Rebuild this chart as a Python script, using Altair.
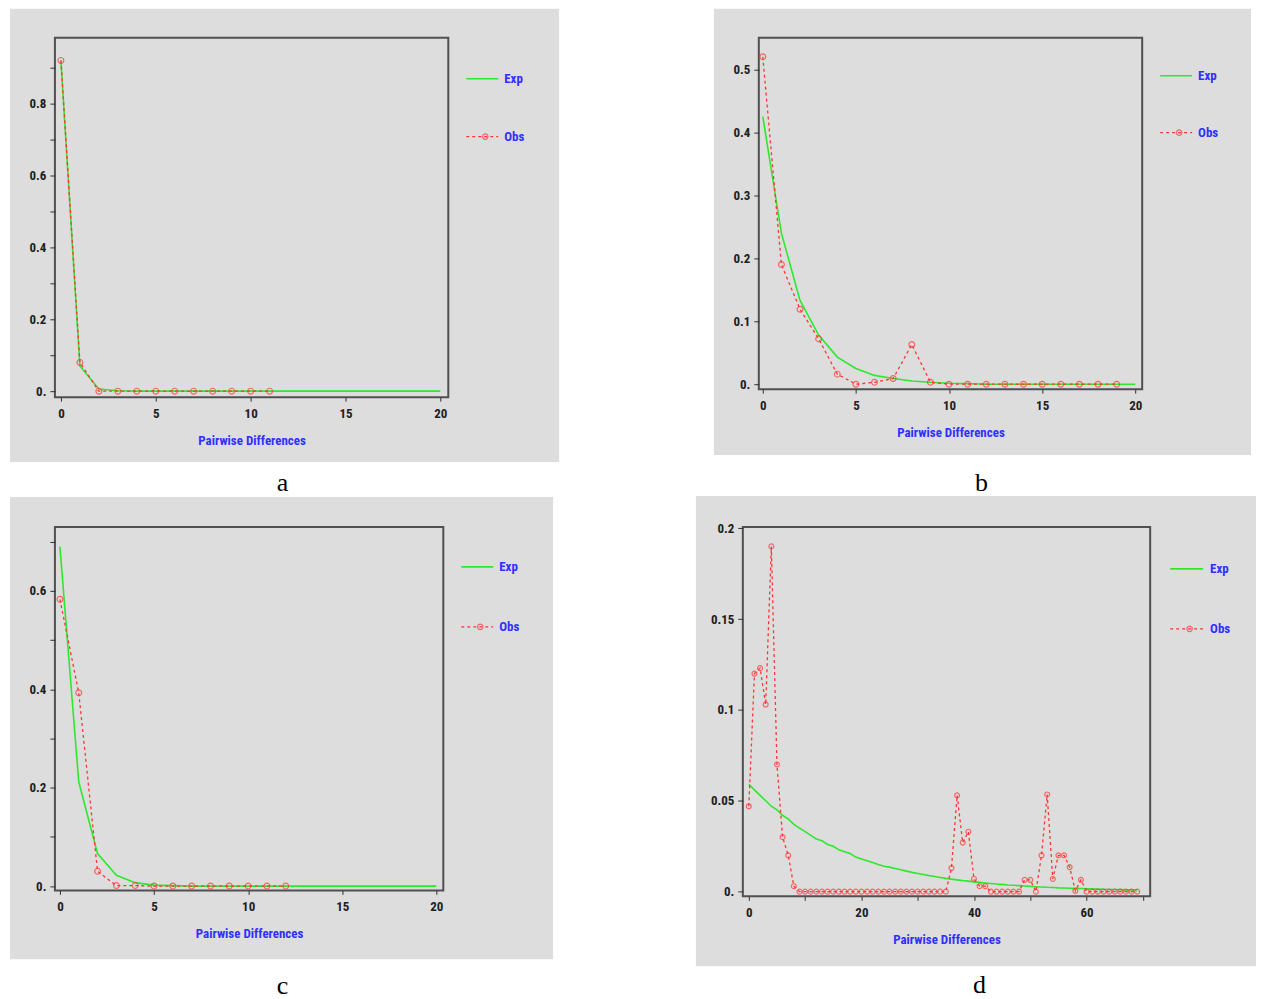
import altair as alt
import pandas as pd

# ---------------- data ----------------
panel_labels = ["a", "b", "c", "d"]
series_names = ["Exp", "Obs"]
x_title = "Pairwise Differences"

# panel a
a_exp_x = [0, 1, 2, 3, 4, 5, 6, 7, 8, 9, 10, 11, 12, 13, 14, 15, 16, 17, 18, 19, 20]
a_exp_y = [0.92, 0.07, 0.006, 0.001, 0, 0, 0, 0, 0, 0, 0, 0, 0, 0, 0, 0, 0, 0, 0, 0, 0]
a_obs_x = [0, 1, 2, 3, 4, 5, 6, 7, 8, 9, 10, 11]
a_obs_y = [0.92, 0.08, 0, 0, 0, 0, 0, 0, 0, 0, 0, 0]

# panel b
b_exp_x = [0, 1, 2, 3, 4, 5, 6, 7, 8, 9, 10, 11, 12, 13, 14, 15, 16, 17, 18, 19, 20]
b_exp_y = [0.425, 0.24, 0.133, 0.078, 0.043, 0.025, 0.014, 0.009, 0.005, 0.003, 0.0015,
           0.001, 0, 0, 0, 0, 0, 0, 0, 0, 0]
b_obs_x = [0, 1, 2, 3, 4, 5, 6, 7, 8, 9, 10, 11, 12, 13, 14, 15, 16, 17, 18, 19]
b_obs_y = [0.52, 0.19, 0.119, 0.072, 0.016, 0.0, 0.003, 0.009, 0.063, 0.003,
           0, 0, 0, 0, 0, 0, 0, 0, 0, 0]

# panel c
c_exp_x = [0, 1, 2, 3, 4, 5, 6, 7, 8, 9, 10, 11, 12, 13, 14, 15, 16, 17, 18, 19, 20]
c_exp_y = [0.69, 0.212, 0.066, 0.022, 0.007, 0.002, 0.001, 0, 0, 0, 0, 0, 0, 0, 0, 0, 0, 0, 0, 0, 0]
c_obs_x = [0, 1, 2, 3, 4, 5, 6, 7, 8, 9, 10, 11, 12]
c_obs_y = [0.583, 0.393, 0.03, 0.001, 0.001, 0, 0, 0, 0, 0, 0, 0, 0]

# panel d
d_x = [0, 1, 2, 3, 4, 5, 6, 7, 8, 9, 10, 11, 12, 13, 14, 15, 16, 17, 18, 19,
       20, 21, 22, 23, 24, 25, 26, 27, 28, 29, 30, 31, 32, 33, 34, 35, 36, 37, 38, 39,
       40, 41, 42, 43, 44, 45, 46, 47, 48, 49, 50, 51, 52, 53, 54, 55, 56, 57, 58, 59,
       60, 61, 62, 63, 64, 65, 66, 67, 68, 69]
d_exp_y = [0.059, 0.056, 0.053, 0.050, 0.047, 0.045, 0.042, 0.040, 0.037, 0.035,
           0.033, 0.031, 0.029, 0.028, 0.026, 0.025, 0.023, 0.022, 0.021, 0.019,
           0.018, 0.017, 0.016, 0.015, 0.014, 0.0135, 0.0127, 0.012, 0.0113, 0.0106,
           0.010, 0.0094, 0.0088, 0.0083, 0.0078, 0.0073, 0.0069, 0.0065, 0.0061, 0.0058,
           0.0054, 0.0051, 0.0048, 0.0045, 0.0042, 0.0040, 0.0037, 0.0035, 0.0033, 0.0031,
           0.0029, 0.0027, 0.0026, 0.0024, 0.0023, 0.0021, 0.0020, 0.0019, 0.0018, 0.0017,
           0.0016, 0.0015, 0.0014, 0.0013, 0.0012, 0.0012, 0.0011, 0.0010, 0.0010, 0.0009]
d_obs_y = [0.047, 0.120, 0.123, 0.103, 0.190, 0.070, 0.030, 0.020, 0.003, 0,
           0, 0, 0, 0, 0, 0, 0, 0, 0, 0,
           0, 0, 0, 0, 0, 0, 0, 0, 0, 0,
           0, 0, 0, 0, 0, 0, 0.013, 0.053, 0.027, 0.033,
           0.007, 0.003, 0.003, 0, 0, 0, 0, 0, 0, 0.0065,
           0.0065, 0, 0.020, 0.0535, 0.007, 0.020, 0.020, 0.0135, 0.0005, 0.0065,
           0, 0, 0, 0, 0, 0, 0, 0, 0, 0]

# axis ticks
x_ticks_20 = [0, 5, 10, 15, 20]
x_ticks_70 = [0, 10, 20, 30, 40, 50, 60, 70]
a_yticks = [0, 0.1, 0.2, 0.3, 0.4, 0.5, 0.6, 0.7, 0.8, 0.9]
b_yticks = [0, 0.1, 0.2, 0.3, 0.4, 0.5]
c_yticks = [0, 0.1, 0.2, 0.3, 0.4, 0.5, 0.6, 0.7]
d_yticks = [0, 0.05, 0.1, 0.15, 0.2]

# ---------------- styling ----------------
BG = "#dddddd"
FRAME = "#505050"
GREEN = "#2ee82e"
RED = "#ff3535"
BLUE = "#3030ff"
NARROW = "Roboto Condensed, Liberation Sans Narrow, Roboto, sans-serif"
SERIF = "Liberation Serif, DejaVu Serif, serif"

Y_EVEN = "datum.value == 0 ? '0.' : (round(datum.value * 10) % 2 == 0 ? format(datum.value, '.1f') : '')"
Y_ALL1 = "datum.value == 0 ? '0.' : format(datum.value, '.1f')"
Y_D = "datum.value == 0 ? '0.' : format(datum.value, '')"
X_ALL = "format(datum.value, 'd')"
X_20 = "datum.value % 20 == 0 ? format(datum.value, 'd') : ''"

AX_STYLE = dict(zindex=1, grid=False, domain=False, labelOverlap=False, labelFlush=False,
                labelFont=NARROW, labelFontSize=13, labelFontWeight="bold",
                labelColor="#202020", tickColor="#303030", tickWidth=1)


def panel(label, exp_x, exp_y, obs_x, obs_y, w, h, xdom, ydom, xticks, xexpr,
          yticks, yexpr, cell, box, leg, lab, psize):
    exp_df = pd.DataFrame({"x": exp_x, "y": exp_y})
    obs_df = pd.DataFrame({"x": obs_x, "y": obs_y})
    leg_df = pd.DataFrame({"name": series_names})
    lab_df = pd.DataFrame({"lab": [label]})
    dummy = pd.DataFrame({"k": [0]})

    X = alt.X("x:Q", scale=alt.Scale(domain=xdom, nice=False, zero=False),
              axis=alt.Axis(values=xticks, labelExpr=xexpr, title=x_title,
                            tickSize=4, labelPadding=6, titlePadding=14,
                            titleFont=NARROW, titleFontSize=13, titleFontWeight="bold",
                            titleColor=BLUE, **AX_STYLE))
    Y = alt.Y("y:Q", scale=alt.Scale(domain=ydom, nice=False, zero=False),
              axis=alt.Axis(values=yticks, labelExpr=yexpr, title=None,
                            tickSize=5, labelPadding=4, **AX_STYLE))

    cell_l, cell_r, cell_t, cell_b = cell
    box_l, box_r, box_t, box_b = box
    lx1, lx2, ltx, ly_exp, ly_obs = leg
    labx, laby = lab

    cell_rect = alt.Chart(dummy).mark_rect(opacity=0).encode(
        x=alt.value(cell_l), x2=alt.value(cell_r), y=alt.value(cell_t), y2=alt.value(cell_b))
    box_rect = alt.Chart(dummy).mark_rect(fill=BG).encode(
        x=alt.value(box_l), x2=alt.value(box_r), y=alt.value(box_t), y2=alt.value(box_b))
    frame = alt.Chart(dummy).mark_rect(filled=False, stroke=FRAME, strokeWidth=2).encode(
        x=alt.value(0), x2=alt.value(w), y=alt.value(0), y2=alt.value(h))

    exp_line = alt.Chart(exp_df).mark_line(color=GREEN, strokeWidth=1.6).encode(x=X, y=Y)
    obs_line = alt.Chart(obs_df).mark_line(color=RED, strokeWidth=1.3,
                                           strokeDash=[3, 3]).encode(x=X, y=Y)
    obs_pts = alt.Chart(obs_df).mark_point(shape="circle", filled=False, color=RED,
                                           size=psize, strokeWidth=1.2).encode(x=X, y=Y)

    leg_exp_rule = alt.Chart(leg_df).transform_filter(alt.datum.name == "Exp").mark_rule(
        color=GREEN, strokeWidth=1.6).encode(
        x=alt.value(lx1), x2=alt.value(lx2), y=alt.value(ly_exp))
    leg_obs_rule = alt.Chart(leg_df).transform_filter(alt.datum.name == "Obs").mark_rule(
        color=RED, strokeWidth=1.3, strokeDash=[3, 3]).encode(
        x=alt.value(lx1), x2=alt.value(lx2), y=alt.value(ly_obs))
    leg_obs_pt = alt.Chart(leg_df).transform_filter(alt.datum.name == "Obs").mark_point(
        shape="circle", filled=False, color=RED, size=30, strokeWidth=1.2).encode(
        x=alt.value((lx1 + lx2) / 2 + 3), y=alt.value(ly_obs))
    leg_exp_txt = alt.Chart(leg_df).transform_filter(alt.datum.name == "Exp").mark_text(
        align="left", baseline="middle", font=NARROW, fontSize=13, fontWeight="bold",
        color=BLUE).encode(text="name:N", x=alt.value(ltx), y=alt.value(ly_exp))
    leg_obs_txt = alt.Chart(leg_df).transform_filter(alt.datum.name == "Obs").mark_text(
        align="left", baseline="middle", font=NARROW, fontSize=13, fontWeight="bold",
        color=BLUE).encode(text="name:N", x=alt.value(ltx), y=alt.value(ly_obs))

    lab_txt = alt.Chart(lab_df).mark_text(
        align="center", baseline="alphabetic", font=SERIF, fontSize=26, color="#000000"
    ).encode(text="lab:N", x=alt.value(labx), y=alt.value(laby))

    return alt.layer(cell_rect, box_rect, frame, exp_line, obs_line, obs_pts,
                     leg_exp_rule, leg_obs_rule, leg_obs_pt, leg_exp_txt, leg_obs_txt,
                     lab_txt).properties(width=w, height=h)


pa = panel(panel_labels[0], a_exp_x, a_exp_y, a_obs_x, a_obs_y,
           394, 360, [-0.316, 20.42], [-0.0167, 0.983], x_ticks_20, X_ALL, a_yticks, Y_EVEN,
           cell=(-45, 660, -29, 459), box=(-45, 505, -29, 425),
           leg=(412, 444, 450, 41, 99), lab=(228, 454), psize=34)
pb = panel(panel_labels[1], b_exp_x, b_exp_y, b_obs_x, b_obs_y,
           384, 352, [-0.214, 20.37], [-0.0079, 0.5503], x_ticks_20, X_ALL, b_yticks, Y_ALL1,
           cell=(-45, 500, -29, 459), box=(-45, 493, -29, 418),
           leg=(402, 434, 440, 38, 95), lab=(223, 454), psize=34)
pc = panel(panel_labels[2], c_exp_x, c_exp_y, c_obs_x, c_obs_y,
           389, 364, [-0.265, 20.37], [-0.0087, 0.730], x_ticks_20, X_ALL, c_yticks, Y_EVEN,
           cell=(-47, 642, -30, 473), box=(-45, 499, -30, 433),
           leg=(407, 439, 445, 40, 100), lab=(228, 468), psize=34)
pd_ = panel(panel_labels[3], d_x, d_exp_y, d_x, d_obs_y,
            408, 370, [-1.064, 71.3], [-0.0026, 0.2007], x_ticks_70, X_20, d_yticks, Y_D,
            cell=(-47, 514, -31, 472), box=(-47, 514, -31, 440),
            leg=(428, 461, 468, 42, 102), lab=(237, 467), psize=24)

row1 = alt.hconcat(pa, pb, spacing=0)
row2 = alt.hconcat(pc, pd_, spacing=0)
chart = alt.vconcat(row1, row2, spacing=0).properties(
    padding=0, background="#ffffff"
).configure_view(stroke=None)

chart.save("out.html", embed_options={"renderer": "svg", "actions": False})
